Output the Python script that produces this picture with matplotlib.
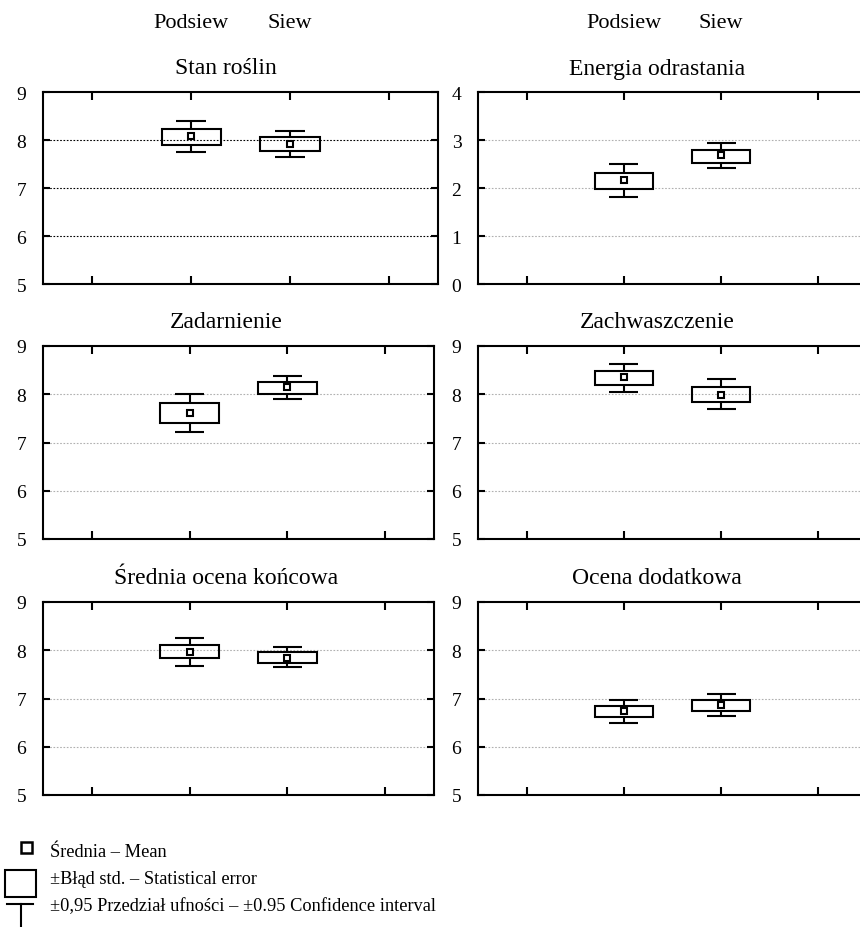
import matplotlib
matplotlib.use("Agg")
import matplotlib.pyplot as plt
import matplotlib.patches as patches
from matplotlib.transforms import blended_transform_factory

plt.rcParams['font.family'] = ['Liberation Serif', 'DejaVu Serif']

W, H = 860, 928

groups = ['Podsiew', 'Siew']
group_pos = [1.5, 2.5]

titles = ['Stan roślin', 'Energia odrastania', 'Zadarnienie',
          'Zachwaszczenie', 'Średnia ocena końcowa', 'Ocena dodatkowa']

# mean, box (± std. error), whiskers (±0.95 confidence interval) per group
means = [[8.08, 7.92], [2.16, 2.69], [7.61, 8.15],
         [8.35, 7.99], [7.97, 7.84], [6.74, 6.87]]
se_low = [[7.90, 7.78], [1.98, 2.53], [7.41, 8.00],
          [8.19, 7.84], [7.83, 7.74], [6.62, 6.74]]
se_high = [[8.23, 8.06], [2.32, 2.80], [7.81, 8.26],
           [8.49, 8.16], [8.11, 7.96], [6.84, 6.97]]
ci_low = [[7.74, 7.65], [1.82, 2.41], [7.21, 7.90],
          [8.04, 7.69], [7.68, 7.65], [6.50, 6.64]]
ci_high = [[8.39, 8.18], [2.49, 2.94], [8.01, 8.37],
           [8.63, 8.31], [8.26, 8.06], [6.96, 7.09]]

y_limits = [(5, 9), (0, 4), (5, 9), (5, 9), (5, 9), (5, 9)]

# panel rectangles in pixels: left, top, right, bottom
boxes_px = [(43, 93, 438, 285), (478, 93, 867, 285),
            (43, 347, 434, 540), (478, 347, 867, 540),
            (43, 603, 434, 796), (478, 603, 867, 796)]
# horizontal centre of each column's title, in pixels
title_x = [226, 657]


def frac(l, t, r, b):
    return [l / W, 1 - b / H, (r - l) / W, (b - t) / H]


fig = plt.figure(figsize=(W / 100, H / 100), dpi=100)

for i in range(6):
    l, t, r, b = boxes_px[i]
    ax = fig.add_axes(frac(l, t, r, b))
    lo, hi = y_limits[i]
    ax.set_xlim(0, 4)
    ax.set_ylim(lo, hi)
    ax.set_xticks([0.5, 1.5, 2.5, 3.5])
    ax.set_xticklabels([])
    ax.set_yticks(range(lo, hi + 1))
    ax.tick_params(direction='in', top=True, right=True, length=5, width=1.5,
                   labelsize=14, pad=12)
    ax.tick_params(axis='x', length=6)
    for s in ax.spines.values():
        s.set_linewidth(1.5)

    grid_color = 'black' if i == 0 else '#b0b0b0'
    for g in range(lo + 1, hi):
        ax.axhline(g, color=grid_color, lw=0.8, ls=(0, (1.5, 1.5)), zorder=0)

    # ±std. error box
    ax.bar(group_pos, [h - lw for h, lw in zip(se_high[i], se_low[i])],
           bottom=se_low[i], width=0.6, fill=False, edgecolor='black',
           linewidth=1.5, zorder=3)
    # confidence interval whiskers with caps
    ax.vlines(group_pos, se_high[i], ci_high[i], color='black', lw=1.5, zorder=3)
    ax.vlines(group_pos, ci_low[i], se_low[i], color='black', lw=1.5, zorder=3)
    for x, c1, c2 in zip(group_pos, ci_low[i], ci_high[i]):
        ax.hlines([c1, c2], x - 0.15, x + 0.15, color='black', lw=1.5, zorder=3)
    # mean marker
    ax.plot(group_pos, means[i], 's', ms=5, mfc='white', mec='black',
            mew=1.5, zorder=4)

    ax_h = b - t
    fig.text(title_x[i % 2] / W, 1 - (t - 24) / H, titles[i], ha='center',
             va='center', fontsize=17)
    if i < 2:
        tl = blended_transform_factory(ax.transData, ax.transAxes)
        for x, name in zip(group_pos, groups):
            ax.text(x, 1 + 70 / ax_h, name, transform=tl, ha='center',
                    va='center', fontsize=16)

# legend drawn in pixel space along the bottom
leg = fig.add_axes([0, 0, 1, 1])
leg.set_xlim(0, W)
leg.set_ylim(H, 0)
leg.axis('off')
leg.add_patch(patches.Rectangle((21, 843), 11, 11, fill=False, lw=1.8,
                                edgecolor='black'))
leg.add_patch(patches.Rectangle((5, 871), 31, 27, fill=False, lw=1.5,
                                edgecolor='black'))
leg.plot([7, 33], [905, 905], color='black', lw=1.5)
leg.plot([20.5, 20.5], [905, 930], color='black', lw=1.5)
leg_labels = ['Średnia – Mean', '±Błąd std. – Statistical error',
              '±0,95 Przedział ufności – ±0.95 Confidence interval']
for y, txt in zip([853, 880, 907], leg_labels):
    leg.text(50, y, txt, ha='left', va='center', fontsize=13.2)

fig.savefig('out.png', dpi=100)
